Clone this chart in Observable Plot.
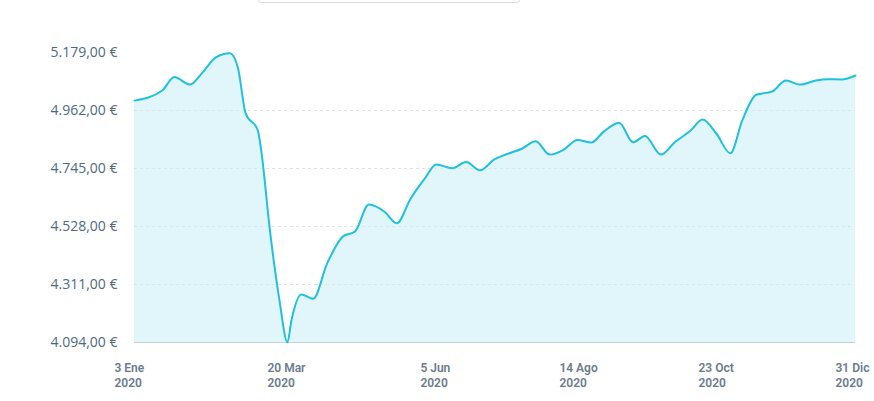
<!DOCTYPE html>
<html>
<head>
<meta charset="utf-8">
<script src="https://cdn.jsdelivr.net/npm/d3@7"></script>
<script src="https://cdn.jsdelivr.net/npm/@observablehq/plot@0.6"></script>
<style>
  html, body { margin: 0; padding: 0; background: #fff; }
  #wrap { position: relative; width: 874px; height: 401px; overflow: hidden; }
  #topbox { position: absolute; left: 258px; top: -12px; width: 260px; height: 13px;
            border: 1px solid #dcdcdc; border-radius: 3px; background: #fff; }
  #chart { position: absolute; left: 0; top: 0; }
</style>
</head>
<body>
<div id="wrap"><div id="chart"></div><div id="topbox"></div></div>
<script>
const dates = ["2020-01-03","2020-01-17","2020-01-23","2020-01-31","2020-02-06","2020-02-13","2020-02-20","2020-02-24","2020-02-28","2020-03-05","2020-03-07","2020-03-11","2020-03-16","2020-03-20","2020-03-22","2020-03-27","2020-04-02","2020-04-09","2020-04-17","2020-04-23","2020-04-30","2020-05-08","2020-05-14","2020-05-21","2020-05-28","2020-06-03","2020-06-11","2020-06-18","2020-06-25","2020-07-02","2020-07-09","2020-07-16","2020-07-23","2020-07-30","2020-08-06","2020-08-13","2020-08-20","2020-08-26","2020-09-03","2020-09-10","2020-09-16","2020-09-24","2020-10-01","2020-10-09","2020-10-15","2020-10-22","2020-10-29","2020-11-04","2020-11-11","2020-11-19","2020-11-26","2020-12-03","2020-12-11","2020-12-17","2020-12-24","2020-12-31"];
const values = [4999,5037,5087,5059,5102,5161,5176,5124,4950,4890,4801,4525,4251,4095,4176,4274,4258,4390,4491,4509,4610,4582,4540,4632,4706,4760,4746,4769,4738,4778,4800,4819,4847,4797,4815,4852,4842,4881,4916,4843,4867,4797,4843,4887,4928,4875,4802,4925,5021,5033,5074,5059,5074,5079,5078,5093];
const yTicks = [4094, 4311, 4528, 4745, 4962, 5179];
const gridTicks = [4311, 4528, 4745, 4962];
const xTickDates = ["2020-01-03","2020-03-20","2020-06-05","2020-08-14","2020-10-23","2020-12-31"];
const xTickLabels = ["3 Ene\n2020","20 Mar\n2020","5 Jun\n2020","14 Ago\n2020","23 Oct\n2020","31 Dic\n2020"];

const parse = d3.utcParse("%Y-%m-%d");
const data = dates.map((d, i) => ({date: parse(d), value: values[i]}));
const xTicks = xTickDates.map(parse);
const es = d3.formatLocale({decimal: ",", thousands: ".", grouping: [3], currency: ["", " €"]});
const fmt = es.format(",.2f");

const chart = Plot.plot({
  width: 874,
  height: 401,
  marginLeft: 134,
  marginRight: 19,
  marginTop: 52,
  marginBottom: 59,
  style: {fontFamily: "'Open Sans', sans-serif", background: "transparent"},
  x: {type: "utc", domain: [parse("2020-01-03"), parse("2020-12-31")]},
  y: {domain: [4094, 5179]},
  marks: [
    Plot.areaY(data, {x: "date", y1: 4094, y2: "value", curve: "monotone-x", fill: "#e1f6fa"}),
    Plot.ruleY(gridTicks, {stroke: "#dde4e8", strokeDasharray: "3,3", strokeWidth: 1}),
    Plot.ruleY([4094], {stroke: "#c3d3dc", strokeWidth: 1}),
    Plot.lineY(data, {x: "date", y: "value", curve: "monotone-x", stroke: "#1fc1dd", strokeWidth: 2}),
    Plot.axisY({ticks: yTicks, tickFormat: d => fmt(d) + " €", tickSize: 0, tickPadding: 17,
      fontSize: 14, fill: "#4d6a80", label: null}),
    Plot.axisX({ticks: xTicks, tickFormat: (d, i) => xTickLabels[i], tickSize: 0, tickPadding: 19,
      textAnchor: "start", dx: -20, fontSize: 12, fontWeight: 600, fontFamily: "Roboto, sans-serif",
      fill: "#6b7b8e", label: null, lineHeight: 1.25})
  ]
});
document.getElementById("chart").appendChild(chart);
</script>
</body>
</html>
